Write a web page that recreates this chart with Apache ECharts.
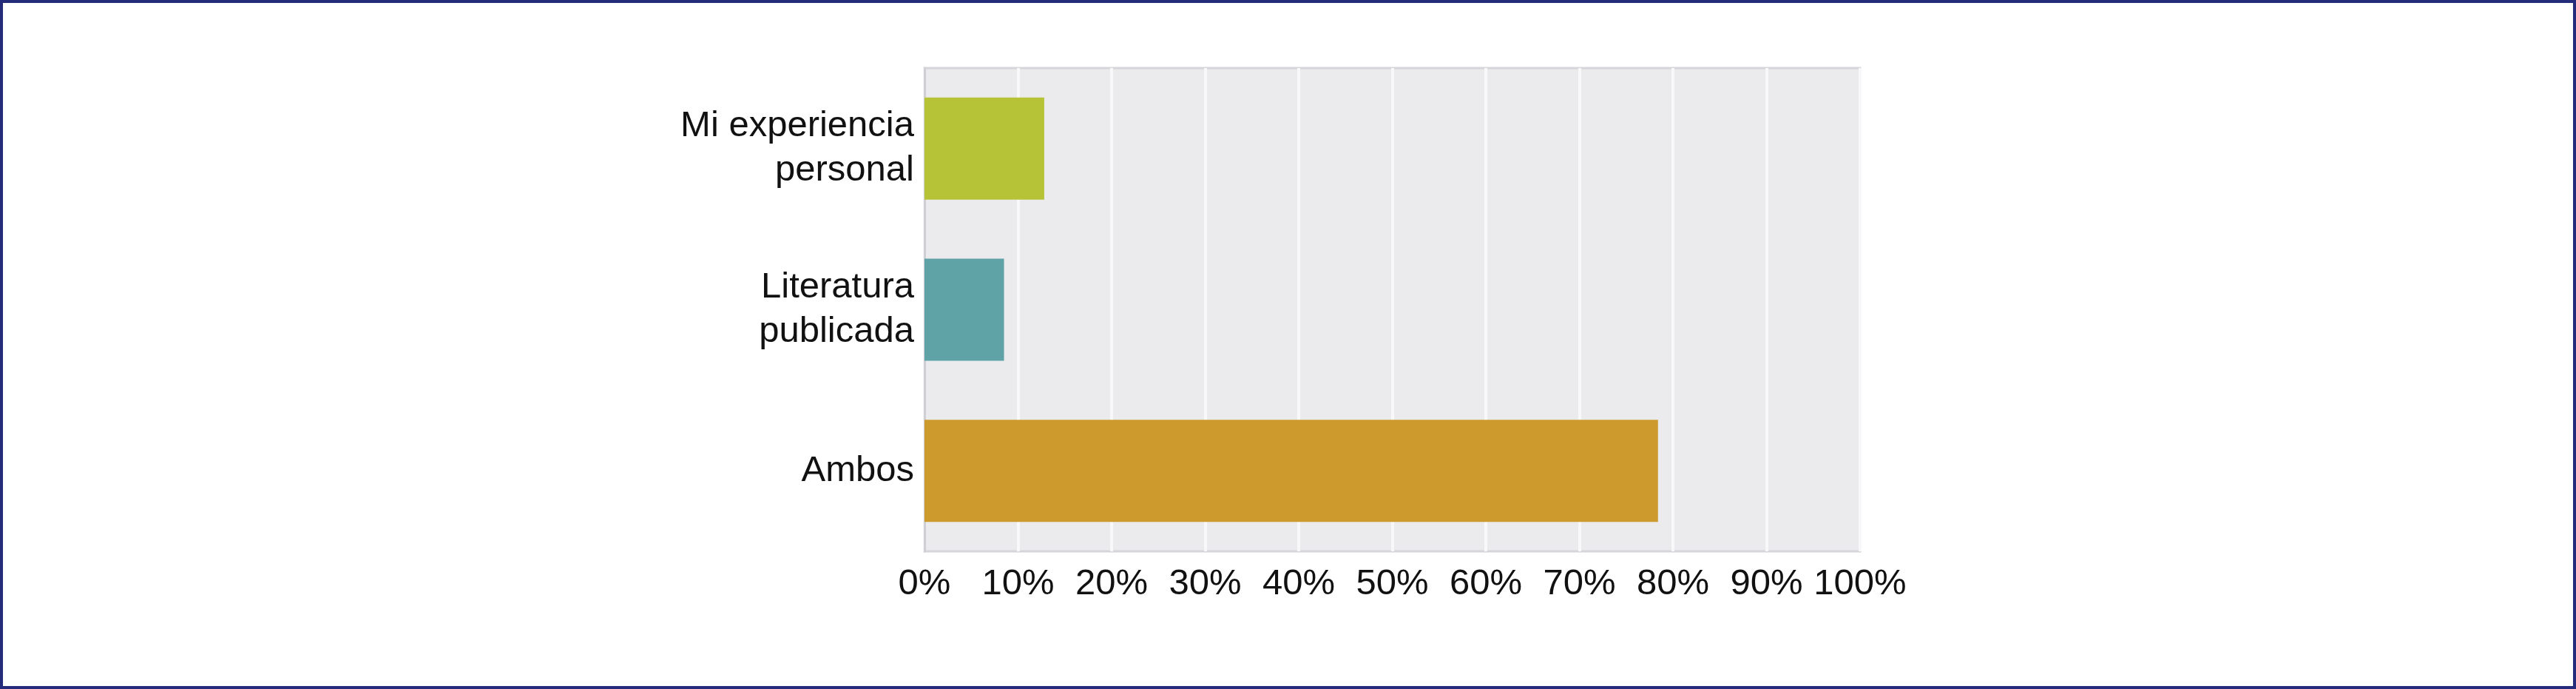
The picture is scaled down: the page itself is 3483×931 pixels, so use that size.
<!DOCTYPE html>
<html>
<head>
<meta charset="utf-8">
<script src="https://cdn.jsdelivr.net/npm/echarts@6/dist/echarts.min.js"></script>
<style>
html,body{margin:0;padding:0;background:#fff;}
#frame{width:3483px;height:931px;box-sizing:border-box;border:4px solid #232b7a;}
#chart1{width:3475px;height:923px;}
</style>
</head>
<body>
<div id="frame"><div id="chart1"></div></div>
<script>
// respuestas (porcentaje)
var categorias=["Mi experiencia personal","Literatura publicada","Ambos"];
var porcentajes=[12.8,8.5,78.4];
var colores=["#b6c336","#5fa3a7","#cc9a2d"];
var ticks=[0,10,20,30,40,50,60,70,80,90,100];

var chart=echarts.init(document.getElementById("chart1"));
var option={
    animation:false,
    grid:{
        left:1246,right:964,top:88,bottom:182,
        show:true,
        backgroundColor:"#ebebee",
        borderColor:"#d6d6da",
        borderWidth:3
    },
    xAxis:{
        type:"value",
        min:ticks[0],
        max:ticks[ticks.length-1],
        interval:ticks[1]-ticks[0],
        axisLine:{show:false},
        axisTick:{show:false},
        axisLabel:{
            formatter:"{value}%",
            color:"#111",
            fontFamily:"Liberation Sans",
            fontSize:49,
            margin:20
        },
        splitLine:{lineStyle:{color:"#f8f8fa",width:4}}
    },
    yAxis:{
        type:"category",
        inverse:true,
        data:categorias,
        axisLine:{show:true,lineStyle:{color:"#d0d0d4",width:3}},
        axisTick:{show:false},
        axisLabel:{
            color:"#111",
            fontFamily:"Liberation Sans",
            fontSize:49,
            lineHeight:60,
            align:"right",
            margin:14,
            // corta en el último espacio
            formatter:function (s) {
                var k=s.lastIndexOf(" ");
                return k>0 ? s.slice(0,k)+"\n"+s.slice(k+1) : s;
            }
        }
    },
    series:[{
        type:"bar",
        barWidth:138,
        data:porcentajes.map(function (v,i) {
            return {value:v,itemStyle:{color:colores[i]}};
        })
    }]
};
chart.setOption(option);
</script>
</body>
</html>
